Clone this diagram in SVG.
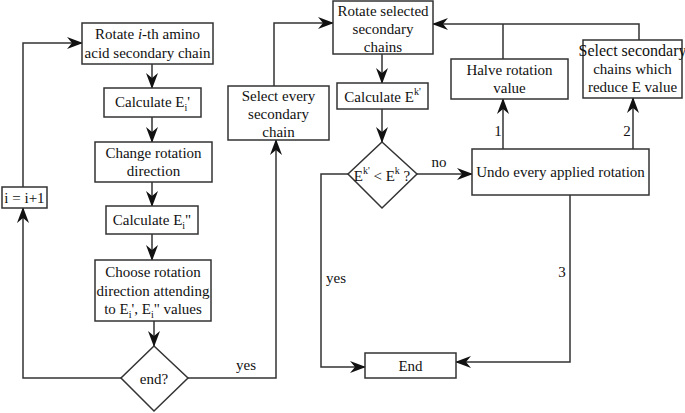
<svg xmlns="http://www.w3.org/2000/svg" width="685" height="413" viewBox="0 0 685 413">
<style>
rect,polygon.n{fill:#fff;stroke:#333;stroke-width:1.5}
text{font-family:"Liberation Serif","Times New Roman",serif;font-size:15px;fill:#111;text-anchor:middle}
.c path{fill:none;stroke:#333;stroke-width:1.5}
.s{font-size:10px}
.l{text-anchor:start}
.b{font-size:16px}
</style>
<defs>
<marker id="a" viewBox="0 0 16 12" refX="15" refY="6" markerWidth="16" markerHeight="12" markerUnits="userSpaceOnUse" orient="auto">
<path d="M0,0 L16,6 L0,12 L5,6 Z" fill="#111"/>
</marker>
</defs>
<rect x="0" y="0" width="685" height="413" fill="#fff" style="stroke:none"/>
<g class="c">
<path d="M152,64 V88" marker-end="url(#a)"/>
<path d="M152,117 V142" marker-end="url(#a)"/>
<path d="M152,182 V206" marker-end="url(#a)"/>
<path d="M152,234 V260" marker-end="url(#a)"/>
<path d="M154,321 V346" marker-end="url(#a)"/>
<path d="M121,378 H23 V208" marker-end="url(#a)"/>
<path d="M23,187 V43 H82" marker-end="url(#a)"/>
<path d="M188,378 H276 V140" marker-end="url(#a)"/>
<path d="M274,86 V23 H333" marker-end="url(#a)"/>
<path d="M382,54 V83" marker-end="url(#a)"/>
<path d="M382,109 V142" marker-end="url(#a)"/>
<path d="M417,174 H472" marker-end="url(#a)"/>
<path d="M348,174 H321 V367 H365" marker-end="url(#a)"/>
<path d="M570,195 V362 H456" marker-end="url(#a)"/>
<path d="M503,149 V99" marker-end="url(#a)"/>
<path d="M633,149 V98" marker-end="url(#a)"/>
<path d="M503,59 V24 M639,40 V24 H433" marker-end="url(#a)"/>
</g>
<g id="rotate-i">
<rect x="82" y="23" width="131" height="41"/>
<text x="147.5" y="39">Rotate <tspan font-style="italic">i</tspan>-th amino</text>
<text x="147.5" y="58">acid secondary chain</text>
</g>
<g id="calc-ei1">
<rect x="104" y="88" width="97" height="29"/>
<text x="152.5" y="107">Calculate E<tspan class="s" dy="4">i</tspan><tspan dy="-4">'</tspan></text>
</g>
<g id="change-dir">
<rect x="95" y="142" width="117" height="40"/>
<text x="153.5" y="158">Change rotation</text>
<text x="153.5" y="176">direction</text>
</g>
<g id="calc-ei2">
<rect x="106" y="206" width="92" height="28"/>
<text x="152" y="225">Calculate E<tspan class="s" dy="4">i</tspan><tspan dy="-4">"</tspan></text>
</g>
<g id="choose-dir">
<rect x="95" y="260" width="116" height="61"/>
<text x="153" y="277">Choose rotation</text>
<text x="153" y="296">direction attending</text>
<text x="153" y="314">to E<tspan class="s" dy="4">i</tspan><tspan dy="-4">',  E</tspan><tspan class="s" dy="4">i</tspan><tspan dy="-4">" values</tspan></text>
</g>
<g id="end-q">
<polygon class="n" points="154,346 188,378 154,411 121,378"/>
<text x="154" y="384">end?</text>
</g>
<g id="inc-i">
<rect x="2" y="187" width="45" height="21"/>
<text x="24.5" y="203">i = i+1</text>
</g>
<g id="select-every">
<rect x="228" y="86" width="101" height="54"/>
<text x="278.5" y="101">Select every</text>
<text x="278.5" y="119">secondary</text>
<text x="278.5" y="137">chain</text>
</g>
<g id="rotate-selected">
<rect x="333" y="1" width="100" height="53"/>
<text x="383" y="16">Rotate selected</text>
<text x="383" y="34">secondary</text>
<text x="383" y="52">chains</text>
</g>
<g id="calc-ek">
<rect x="337" y="83" width="91" height="26"/>
<text x="382.5" y="102">Calculate E<tspan class="s" dy="-7">k'</tspan></text>
</g>
<g id="cmp">
<polygon class="n" points="382,142 417,174 382,208 348,174"/>
<text x="382" y="181">E<tspan class="s" dy="-7">k'</tspan><tspan dy="7"> &lt; E</tspan><tspan class="s" dy="-7">k</tspan><tspan dy="7"> ?</tspan></text>
</g>
<g id="undo">
<rect x="472" y="149" width="177" height="46"/>
<text x="560.5" y="177">Undo every applied rotation</text>
</g>
<g id="halve">
<rect x="451" y="59" width="117" height="40"/>
<text x="509.5" y="75">Halve rotation</text>
<text x="509.5" y="93">value</text>
</g>
<g id="select-reduce">
<rect x="583" y="40" width="99" height="58"/>
<text class="b" x="632.5" y="56">Select secondary</text>
<text x="632.5" y="74">chains which</text>
<text x="632.5" y="92">reduce E value</text>
</g>
<g id="end">
<rect x="365" y="353" width="91" height="25"/>
<text x="410.5" y="371">End</text>
</g>
<g id="labels">
<text x="246" y="370">yes</text>
<text x="439" y="167">no</text>
<text class="l" x="326" y="283">yes</text>
<text x="498" y="136">1</text>
<text x="627" y="136">2</text>
<text x="562" y="277">3</text>
</g>
</svg>
